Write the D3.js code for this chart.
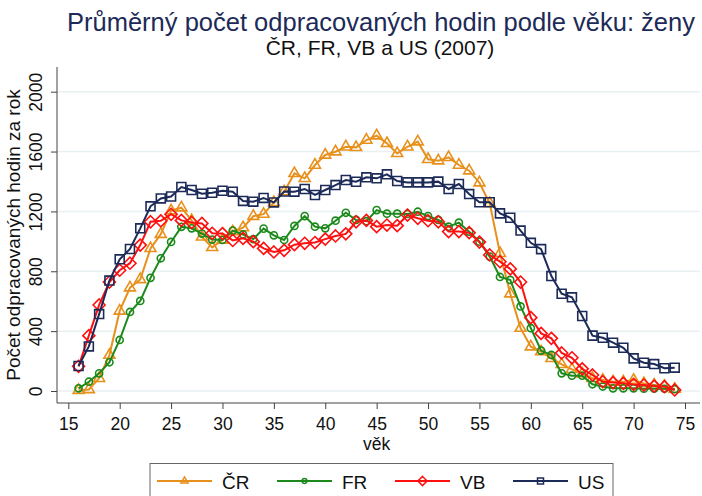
<!DOCTYPE html>
<html>
<head>
<meta charset="utf-8">
<script src="https://cdn.jsdelivr.net/npm/d3@7"></script>
<style>
  html, body { margin: 0; padding: 0; background: #fff; }
  #chart { width: 702px; height: 496px; }
  text { font-family: "Liberation Sans", Arial, sans-serif; }
</style>
</head>
<body>
<div id="chart"></div>
<script>
// ages 16..74
const ages = [16,17,18,19,20,21,22,23,24,25,26,27,28,29,30,31,32,33,34,35,36,37,38,39,40,41,42,43,44,45,
  46,47,48,49,50,51,52,53,54,55,56,57,58,59,60,61,62,63,64,65,66,67,68,69,70,71,72,73,74];

const crValues = [5,10,85,240,535,690,745,953,1048,1205,1225,1140,1030,960,1009,1065,1092,1168,1182,1260,
  1332,1454,1421,1510,1577,1599,1632,1628,1677,1706,1655,1588,1632,1666,1548,1539,1561,1510,1472,1392,
  1254,920,650,420,296,263,218,178,145,115,85,73,62,62,73,51,40,33,13];
const frValues = [18,62,118,192,341,528,602,756,887,996,1097,1087,1052,1012,1009,1072,1046,1015,1085,1040,
  1009,1103,1169,1098,1087,1138,1191,1143,1135,1209,1185,1185,1183,1198,1169,1143,1098,1125,1065,998,
  898,762,742,565,420,270,241,118,102,102,45,30,18,18,18,15,15,15,12];
const vbValues = [165,370,575,728,807,854,975,1131,1137,1181,1140,1126,1120,1054,1052,1006,1020,998,953,929,
  940,978,987,992,1015,1036,1050,1131,1140,1098,1109,1105,1176,1154,1138,1131,1065,1065,1058,995,
  909,864,816,728,490,385,352,254,222,148,107,62,56,51,44,40,33,29,7];
const usValues = [167,298,514,738,880,949,1087,1234,1287,1300,1363,1343,1318,1325,1338,1332,1270,1265,1290,1260,
  1333,1332,1350,1310,1343,1376,1410,1398,1428,1421,1448,1403,1394,1394,1394,1399,1350,1383,1316,1261,
  1261,1187,1158,1072,990,948,768,650,626,501,370,356,323,289,218,189,180,152,156];

const seriesNames = ["ČR", "FR", "VB", "US"];
const xTicks = [15,20,25,30,35,40,45,50,55,60,65,70,75];
const yTicks = [0,400,800,1200,1600,2000];

const titleText = "Průměrný počet odpracovaných hodin podle věku: ženy";
const subtitleText = "ČR, FR, VB a US (2007)";
const xTitle = "věk";
const yTitle = "Počet odpracovaných hodin za rok";

// Stata-like diamond (square rotated 45 deg)
const symbolRhombus = {
    draw(ctx, size) {
        const r = Math.sqrt(size / 2);
        ctx.moveTo(0, -r);
        ctx.lineTo(r, 0);
        ctx.lineTo(0, r);
        ctx.lineTo(-r, 0);
        ctx.closePath();
    }
};

const styles = {
    "ČR": { color: "#e8901c", symbol: d3.symbolTriangle, size: 52, legendSize: 22 },
    "FR": { color: "#1b8a1b", symbol: d3.symbolCircle, size: 40, legendSize: 18 },
    "VB": { color: "#ff1010", symbol: symbolRhombus, size: 72, legendSize: 42 },
    "US": { color: "#1c2a58", symbol: d3.symbolSquare, size: 80, legendSize: 36 }
};

function drawChart() {
    const width = 702, height = 496;
    const svg = d3.select("#chart").append("svg")
        .attr("width", width)
        .attr("height", height);

    const x = d3.scaleLinear().domain([15, 75]).range([68.3, 685]);
    const y = d3.scaleLinear().domain([0, 2000]).range([391, 91.7]);

    const axisLeft = 57, axisBottom = 403, plotTop = 67, plotRight = 700;

    // titles
    svg.append("text")
        .attr("x", 381).attr("y", 31)
        .attr("text-anchor", "middle")
        .attr("font-size", 25.5)
        .attr("fill", "#1c2a58")
        .text(titleText);
    svg.append("text")
        .attr("x", 380).attr("y", 55)
        .attr("text-anchor", "middle")
        .attr("font-size", 21)
        .attr("fill", "#111")
        .text(subtitleText);

    // grid
    svg.append("g").selectAll("line")
        .data(yTicks)
        .join("line")
        .attr("x1", axisLeft).attr("x2", plotRight)
        .attr("y1", d => y(d)).attr("y2", d => y(d))
        .attr("stroke", "#e9f0f2")
        .attr("stroke-width", 1.5);

    // y axis
    const yAxis = svg.append("g")
        .attr("transform", `translate(${axisLeft},0)`)
        .call(d3.axisLeft(y).tickValues(yTicks).tickSize(6).tickSizeOuter(0).tickFormat(d3.format("d")));
    yAxis.select(".domain").remove();
    yAxis.append("line")
        .attr("x1", 0).attr("x2", 0).attr("y1", plotTop).attr("y2", axisBottom)
        .attr("stroke", "#444");
    yAxis.selectAll(".tick line").attr("stroke", "#444");
    yAxis.selectAll(".tick text")
        .attr("font-size", 17.5)
        .attr("fill", "#111")
        .attr("x", null).attr("dy", null)
        .attr("text-anchor", "middle")
        .attr("transform", "translate(-15,0) rotate(-90)");

    // x axis
    const xAxis = svg.append("g")
        .attr("transform", `translate(0,${axisBottom})`)
        .call(d3.axisBottom(x).tickValues(xTicks).tickSize(6).tickSizeOuter(0).tickFormat(d3.format("d")));
    xAxis.select(".domain").remove();
    xAxis.append("line")
        .attr("x1", axisLeft).attr("x2", plotRight).attr("y1", 0).attr("y2", 0)
        .attr("stroke", "#444");
    xAxis.selectAll(".tick line").attr("stroke", "#444");
    xAxis.selectAll(".tick text")
        .attr("font-size", 17.5)
        .attr("fill", "#111")
        .attr("y", 27).attr("dy", null);

    svg.append("text")
        .attr("x", x(45)).attr("y", 450)
        .attr("text-anchor", "middle")
        .attr("font-size", 17.5)
        .attr("fill", "#111")
        .text(xTitle);

    svg.append("text")
        .attr("transform", `translate(20,${(plotTop + axisBottom) / 2}) rotate(-90)`)
        .attr("text-anchor", "middle")
        .attr("font-size", 19)
        .attr("fill", "#111")
        .text(yTitle);

    // series
    const seriesData = {
        "ČR": crValues, "FR": frValues, "VB": vbValues, "US": usValues
    };
    const line = d3.line().x(d => x(d.age)).y(d => y(d.value));

    seriesNames.forEach(name => {
        const st = styles[name];
        const pts = ages.map((a, i) => ({ age: a, value: seriesData[name][i] }));
        const g = svg.append("g");
        g.append("path")
            .datum(pts)
            .attr("d", line)
            .attr("fill", "none")
            .attr("stroke", st.color)
            .attr("stroke-width", 2);
        g.selectAll("path.mk")
            .data(pts)
            .join("path")
            .attr("class", "mk")
            .attr("transform", d => `translate(${x(d.age)},${y(d.value)})`)
            .attr("d", d3.symbol().type(st.symbol).size(st.size))
            .attr("fill", "none")
            .attr("stroke", st.color)
            .attr("stroke-width", 1.6);
    });

    // legend
    const legend = svg.append("g");
    legend.append("rect")
        .attr("x", 150).attr("y", 463.5)
        .attr("width", 463).attr("height", 50)
        .attr("fill", "#fff")
        .attr("stroke", "#666")
        .attr("stroke-width", 1);
    const legendX = [157, 277, 395, 513];
    seriesNames.forEach((name, i) => {
        const st = styles[name];
        const lx = legendX[i];
        legend.append("line")
            .attr("x1", lx).attr("x2", lx + 55)
            .attr("y1", 481).attr("y2", 481)
            .attr("stroke", st.color).attr("stroke-width", 2);
        legend.append("path")
            .attr("transform", `translate(${lx + 27.5},481)`)
            .attr("d", d3.symbol().type(st.symbol).size(st.legendSize))
            .attr("fill", "none")
            .attr("stroke", st.color)
            .attr("stroke-width", 1.5);
        legend.append("text")
            .attr("x", lx + 65).attr("y", 488.5)
            .attr("font-size", 19)
            .attr("fill", "#111")
            .text(name);
    });
}

drawChart();
</script>
</body>
</html>
